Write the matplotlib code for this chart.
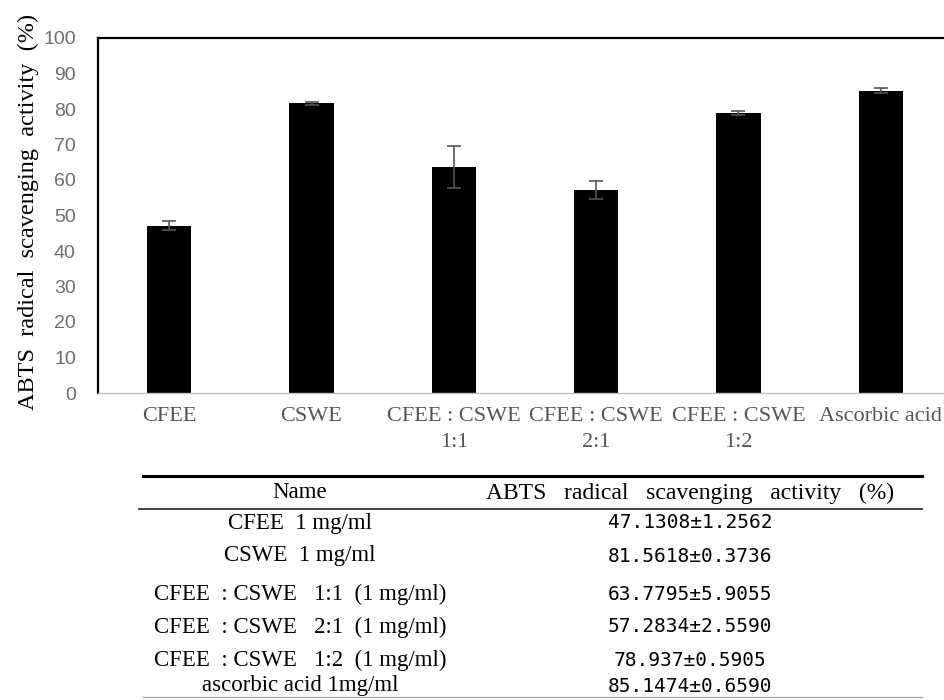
import matplotlib.pyplot as plt
import numpy as np

# datos del grafico
categorias = ['CFEE', 'CSWE', 'CFEE : CSWE\n1:1', 'CFEE : CSWE\n2:1',
              'CFEE : CSWE\n1:2', 'Ascorbic acid']
medias = [47.1308, 81.5618, 63.7795, 57.2834, 78.937, 85.1474]
desv = [1.2562, 0.3736, 5.9055, 2.5590, 0.5905, 0.6590]

# filas de la tabla
nombres_tabla = ['CFEE  1 mg/ml', 'CSWE  1 mg/ml',
                 'CFEE  : CSWE   1:1  (1 mg/ml)',
                 'CFEE  : CSWE   2:1  (1 mg/ml)',
                 'CFEE  : CSWE   1:2  (1 mg/ml)',
                 'ascorbic acid 1mg/ml']
yticks = [0, 10, 20, 30, 40, 50, 60, 70, 80, 90, 100]

serif = 'Liberation Serif'
W, H = 944, 700

fig = plt.figure(figsize=(9.44, 7), dpi=100)
ax = fig.add_axes([98 / W, 1 - 393 / H, (952 - 98) / W, (393 - 38) / H])

x = np.arange(len(categorias))
ax.bar(x, medias, width=0.31, color='black', zorder=2)
ax.errorbar(x, medias, yerr=desv, fmt='none', ecolor='#555555',
            elinewidth=1.2, capsize=5, capthick=1.2, zorder=3)

ax.set_xlim(-0.5, len(categorias) - 0.5)
ax.set_ylim(0, 100)
ax.set_yticks(yticks)
ax.tick_params(axis='y', length=0, pad=16, labelsize=14, labelcolor='#6e6e6e')
ax.tick_params(axis='x', length=0, pad=10, labelcolor='#555555')
ax.set_xticks(x)
ax.set_xticklabels(categorias, family=serif, fontsize=16, linespacing=1.5)
for lab in ax.get_yticklabels():
    lab.set_family('Liberation Sans')

ax.spines['top'].set_linewidth(1.6)
ax.spines['left'].set_linewidth(1.6)
ax.spines['right'].set_visible(False)
ax.spines['bottom'].set_color('#bfbfbf')
ax.spines['bottom'].set_linewidth(1.0)

fig.text(28 / W, 1 - 212 / H, 'ABTS  radical  scavenging  activity  (%)',
         rotation=90, ha='center', va='center', family=serif, fontsize=17.5)

# tabla
def fy(py):
    return 1 - py / H

fig.add_artist(plt.Line2D([143 / W, 922 / W], [fy(476), fy(476)],
                          color='black', lw=2.2))
fig.add_artist(plt.Line2D([139 / W, 922 / W], [fy(509), fy(509)],
                          color='#333333', lw=1.3))
fig.add_artist(plt.Line2D([143 / W, 922 / W], [fy(697), fy(697)],
                          color='#aaaaaa', lw=1.0))

fig.text(300 / W, fy(493), 'Name', ha='center', va='center',
         family=serif, fontsize=16.5)
fig.text(690 / W, fy(493), 'ABTS   radical   scavenging   activity   (%)',
         ha='center', va='center', family=serif, fontsize=17)

filas_y = [523, 556, 594, 627, 660, 686]
for nombre, m, s, py in zip(nombres_tabla, medias, desv, filas_y):
    fig.text(300 / W, fy(py), nombre, ha='center', va='center',
             family=serif, fontsize=16.5)
    fig.text(690 / W, fy(py), f'{m:g}±{s:.4f}', ha='center', va='center',
             family='DejaVu Sans Mono', fontsize=14)

plt.savefig('out.png', dpi=100)
